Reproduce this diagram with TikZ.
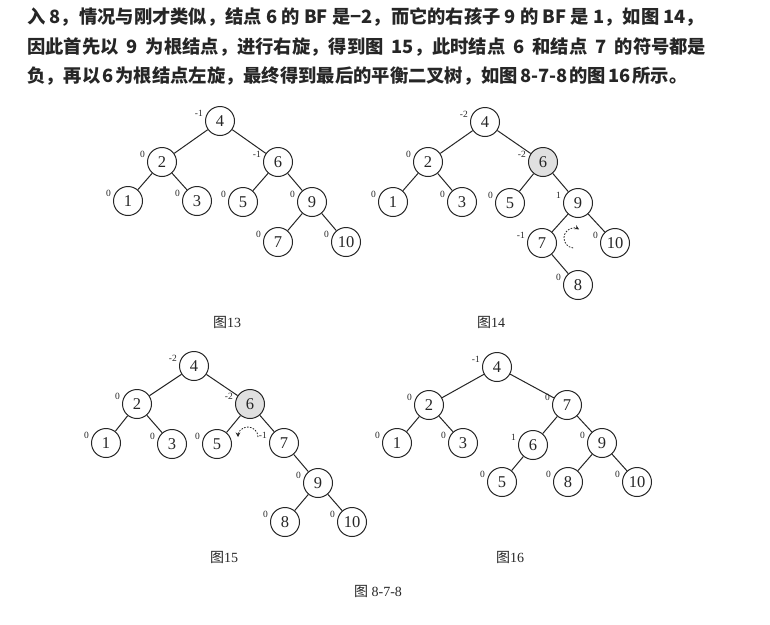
\documentclass[tikz,border=0pt]{standalone}
\usepackage{fontspec}
\setmainfont{Liberation Serif}
\newfontfamily\cjk{Noto Sans CJK SC}
\usetikzlibrary{arrows.meta}
\definecolor{ink}{HTML}{262626}
\definecolor{shade}{HTML}{E0E0E0}
\tikzset{
  nd/.style={circle,draw=ink,line width=1pt,minimum size=29pt,inner sep=0pt,
             font=\fontsize{16.5pt}{16.5pt}\selectfont,text=ink},
  gnd/.style={nd,fill=shade},
  bf/.style={font=\fontsize{9.5pt}{9.5pt}\selectfont,inner sep=0pt,anchor=base east,text=ink},
  lnk/.style={draw=ink,line width=1pt},
  rotarr/.style={draw=ink,line width=0.8pt,dash pattern=on 1.6pt off 1.4pt,
              -{Stealth[length=4.5pt,width=4.5pt]}},
  para/.style={font=\cjk\bfseries\fontsize{18.3pt}{18.3pt}\selectfont,text=ink,anchor=west,inner sep=0pt},
  figcap/.style={font=\fontsize{14pt}{14pt}\selectfont,text=ink,inner sep=0pt}
}
\newcommand\bflab[2]{\node[bf] at ([xshift=-17pt,yshift=5pt]#1.center) {#2};}
\newcommand\gap{\hspace{8pt}}
\newcommand\tgap{\hspace{2pt}}
\begin{document}
\begin{tikzpicture}[x=1pt,y=-1pt]
\useasboundingbox[fill=white] (0,0) rectangle (770,624);

% paragraph
\node[para] (t1) at (27,17) {入 8，情况与刚才类似，结点 6 的 BF 是−2，而它的右孩子 9 的 BF 是 1，如图 14，};
\node[para] (t2) at (27,47) {因此首先以\gap 9\gap 为根结点，进行右旋，得到图\gap 15，此时结点\gap 6\gap 和结点\gap 7\gap 的符号都是};
\node[para] (t3) at (27,76) {负，再以\tgap 6\tgap 为根结点左旋，最终得到最后的平衡二叉树，如图\tgap 8-7-8\tgap 的图\tgap 16\tgap 所示。};

% ---------- Figure 13 ----------
\node[nd] (a4) at (220,121) {4};
\node[nd] (a2) at (162,162) {2};
\node[nd] (a6) at (278,162) {6};
\node[nd] (a1) at (128,201) {1};
\node[nd] (a3) at (197,201) {3};
\node[nd] (a5) at (243,202) {5};
\node[nd] (a9) at (312,202) {9};
\node[nd] (a7) at (278,242) {7};
\node[nd] (a10) at (346,242) {10};
\path[lnk] (a4)--(a2) (a4)--(a6) (a2)--(a1) (a2)--(a3) (a6)--(a5) (a6)--(a9) (a9)--(a7) (a9)--(a10);
\bflab{a4}{-1}\bflab{a2}{0}\bflab{a6}{-1}\bflab{a1}{0}\bflab{a3}{0}
\bflab{a5}{0}\bflab{a9}{0}\bflab{a7}{0}\bflab{a10}{0}
\node[figcap] (c13) at (227,322) {{\cjk 图}13};

% ---------- Figure 14 ----------
\node[nd] (b4) at (485,122) {4};
\node[nd] (b2) at (428,162) {2};
\node[gnd] (b6) at (543,162) {6};
\node[nd] (b1) at (393,202) {1};
\node[nd] (b3) at (462,202) {3};
\node[nd] (b5) at (510,203) {5};
\node[nd] (b9) at (578,203) {9};
\node[nd] (b7) at (542,243) {7};
\node[nd] (b10) at (615,243) {10};
\node[nd] (b8) at (578,285) {8};
\path[lnk] (b4)--(b2) (b4)--(b6) (b2)--(b1) (b2)--(b3) (b6)--(b5) (b6)--(b9) (b9)--(b7) (b9)--(b10) (b7)--(b8);
\bflab{b4}{-2}\bflab{b2}{0}\bflab{b6}{-2}\bflab{b1}{0}\bflab{b3}{0}
\bflab{b5}{0}\bflab{b9}{1}\bflab{b7}{-1}\bflab{b10}{0}\bflab{b8}{0}
\coordinate (r14) at (574,238);
\draw[rotarr] ([shift={(95:10)}]r14) arc[start angle=95,end angle=300,radius=10];
\node[figcap] (c14) at (491,322) {{\cjk 图}14};

% ---------- Figure 15 ----------
\node[nd] (c4) at (194,366) {4};
\node[nd] (c2) at (137,404) {2};
\node[gnd] (c6) at (250,404) {6};
\node[nd] (c1) at (106,443) {1};
\node[nd] (c3) at (172,444) {3};
\node[nd] (c5) at (217,444) {5};
\node[nd] (c7) at (284,443) {7};
\node[nd] (c9) at (318,483) {9};
\node[nd] (c8) at (285,522) {8};
\node[nd] (c10) at (352,522) {10};
\path[lnk] (c4)--(c2) (c4)--(c6) (c2)--(c1) (c2)--(c3) (c6)--(c5) (c6)--(c7) (c7)--(c9) (c9)--(c8) (c9)--(c10);
\bflab{c4}{-2}\bflab{c2}{0}\bflab{c6}{-2}\bflab{c1}{0}\bflab{c3}{0}
\bflab{c5}{0}\bflab{c7}{-1}\bflab{c9}{0}\bflab{c8}{0}\bflab{c10}{0}
\coordinate (r15) at (248,437);
\draw[rotarr] ([shift={(0:10)}]r15) arc[start angle=0,end angle=-180,radius=10];
\node[figcap] (c15) at (224,557) {{\cjk 图}15};

% ---------- Figure 16 ----------
\node[nd] (d4) at (497,367) {4};
\node[nd] (d2) at (429,405) {2};
\node[nd] (d7) at (567,405) {7};
\node[nd] (d1) at (397,443) {1};
\node[nd] (d3) at (463,443) {3};
\node[nd] (d6) at (533,445) {6};
\node[nd] (d9) at (602,443) {9};
\node[nd] (d5) at (502,482) {5};
\node[nd] (d8) at (568,482) {8};
\node[nd] (d10) at (637,482) {10};
\path[lnk] (d4)--(d2) (d4)--(d7) (d2)--(d1) (d2)--(d3) (d7)--(d6) (d7)--(d9) (d6)--(d5) (d9)--(d8) (d9)--(d10);
\bflab{d4}{-1}\bflab{d2}{0}\bflab{d7}{0}\bflab{d1}{0}\bflab{d3}{0}
\bflab{d6}{1}\bflab{d9}{0}\bflab{d5}{0}\bflab{d8}{0}\bflab{d10}{0}
\node[figcap] (c16) at (510,557) {{\cjk 图}16};

\node[figcap] (cmain) at (378,591) {{\cjk 图} 8-7-8};
\end{tikzpicture}
\end{document}
